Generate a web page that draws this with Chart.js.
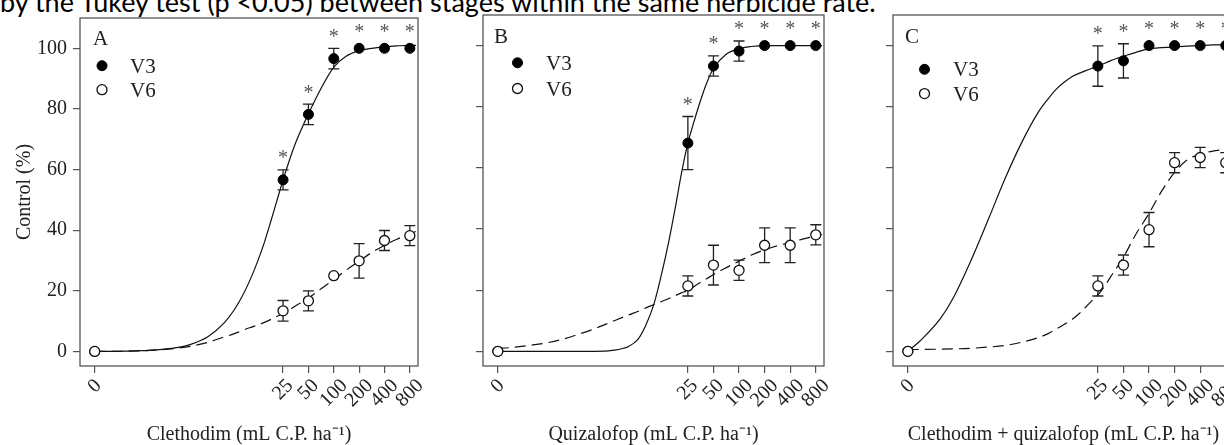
<!DOCTYPE html>
<html><head><meta charset="utf-8">
<script src="https://cdn.jsdelivr.net/npm/chart.js@4.4.1/dist/chart.umd.min.js"></script>
<style>
html,body{margin:0;padding:0;background:#fff;width:1224px;height:445px;overflow:hidden;position:relative;}
#caption{position:absolute;left:0;top:-12px;font-family:Lato,'Open Sans',sans-serif;font-size:27px;line-height:27px;color:#000;white-space:nowrap;}
canvas{position:absolute;top:0;}
</style></head><body>
<div id="caption">by the Tukey test (p &lt;0.05) between stages within the same herbicide rate.</div>
<canvas id="cA" width="432" height="445" style="left:0px"></canvas>
<canvas id="cB" width="398" height="445" style="left:440px"></canvas>
<canvas id="cC" width="398" height="445" style="left:850px"></canvas>
<script>
// ---------- data ----------
const doseLabels = ['0', '25', '50', '100', '200', '400', '800'];
const doses = [0, 25, 50, 100, 200, 400, 800];

// Panel A: clethodim
const clethodimV3 = [0, 56.6, 78.2, 96.6, 100, 100, 100];
const clethodimV3Err = [0, 3.3, 3.4, 3.4, 0, 0, 0];
const clethodimV6 = [0, 13.4, 16.7, 25.0, 29.9, 36.6, 38.2];
const clethodimV6Err = [0, 3.4, 3.3, 0, 5.7, 3.3, 3.3];
const clethodimSig = [false, true, true, true, true, true, true];

// Panel B: quizalofop
const quizalofopV3 = [0, 68.1, 93.3, 98.2, 100, 100, 100];
const quizalofopV3Err = [0, 8.7, 3.3, 3.3, 0, 0, 0];
const quizalofopV6 = [0, 21.4, 28.2, 26.5, 34.7, 34.7, 38.1];
const quizalofopV6Err = [0, 3.3, 6.5, 3.3, 5.7, 5.7, 3.3];
const quizalofopSig = [false, true, true, true, true, true, true];

// Panel C: clethodim + quizalofop
const mixV3 = [0, 93.3, 95.0, 100, 100, 100, 100];
const mixV3Err = [0, 6.6, 5.6, 0, 0, 0, 0];
const mixV6 = [0, 21.4, 28.2, 39.8, 61.7, 63.4, 61.7];
const mixV6Err = [0, 3.3, 3.3, 5.6, 3.3, 3.3, 3.3];
const mixSig = [false, true, true, true, true, true, true];

// fitted curves at these doses (0 = the "0" position)
const curveDoses = [0, 0.2, 0.35, 0.5, 0.8, 1.3, 2, 3.2, 5, 6.5, 8, 10, 12.5, 15, 18, 21, 25, 30, 35, 42, 50, 70, 100, 140, 200, 280, 400, 560, 800, 950];
const clethodimV3Fit = [0, 0.03, 0.12, 0.25, 0.55, 1.15, 2.35, 4.85, 9.4, 13.5, 17.7, 23.2, 29.8, 36.0, 43.2, 49.5, 56.6, 63.4, 68.6, 73.8, 78.4, 86.6, 93.8, 97.4, 99.2, 100, 100.5, 100.8, 101, 101];
const clethodimV6Fit = [0, 0, 0.1, 0.2, 0.5, 1.0, 1.7, 3.0, 4.8, 5.8, 6.8, 7.8, 8.7, 9.6, 10.6, 11.5, 12.5, 13.8, 15.0, 16.3, 17.6, 20.6, 23.7, 26.8, 29.8, 32.6, 35.0, 37.0, 38.8, 39.6];
const quizalofopV3Fit = [0, 0, 0, 0, 0, 0, 0, 0.3, 1.6, 4.0, 8.5, 15.6, 26.3, 36.3, 47.8, 58.2, 68.1, 75.8, 81.8, 88.0, 92.5, 97.1, 99.0, 99.7, 100, 100, 100, 100, 100, 100];
const quizalofopV6Fit = [1.0, 1.2, 2.0, 2.6, 3.8, 5.6, 7.4, 9.7, 11.9, 13.1, 14.2, 15.3, 16.4, 17.3, 18.3, 19.1, 20.0, 21.3, 22.5, 23.8, 25.1, 27.3, 29.5, 31.5, 33.2, 34.5, 35.6, 36.7, 37.7, 38.2];
const mixV3Fit = [0, 3.3, 10.7, 17.6, 29.6, 43.5, 56.2, 68.5, 78.3, 82.6, 85.6, 88.0, 89.9, 90.9, 91.8, 92.5, 93.2, 94.2, 95.0, 95.8, 96.5, 97.8, 98.9, 99.3, 99.6, 99.8, 100, 100.2, 100.3, 100.3];
const mixV6Fit = [0.6, 0.6, 0.7, 0.8, 1.0, 1.4, 1.9, 3.0, 4.5, 5.8, 7.2, 8.8, 10.5, 12.3, 14.5, 16.4, 18.5, 21.3, 24.2, 27.5, 30.8, 38.3, 45.1, 52.3, 58.5, 62.6, 64.5, 65.5, 66.0, 66.2];

const yTicks = [0, 20, 40, 60, 80, 100];

// ---------- presentation ----------
const ZERO_AT = 0.145;               // where dose 0 sits on the log axis
const plotDose = d => (d === 0 ? ZERO_AT : d);
const SERIF = '"Liberation Serif", "Times New Roman", serif';
const INK = '#222';

const decor = {
  id: 'decor',
  beforeDatasetDraw(chart, args) {
    const ds = chart.data.datasets[args.index];
    if (!ds.errors) return;
    const ctx = chart.ctx, xs = chart.scales.x, ys = chart.scales.y;
    ctx.save();
    ctx.strokeStyle = '#222';
    ctx.lineWidth = 1.3;
    ds.data.forEach((p, i) => {
      const e = ds.errors[i];
      if (!e) return;
      const px = xs.getPixelForValue(p.x);
      const t = ys.getPixelForValue(p.y + e), b = ys.getPixelForValue(p.y - e);
      ctx.beginPath();
      ctx.moveTo(px, t); ctx.lineTo(px, b);
      ctx.moveTo(px - 5.5, t); ctx.lineTo(px + 5.5, t);
      ctx.moveTo(px - 5.5, b); ctx.lineTo(px + 5.5, b);
      ctx.stroke();
    });
    ctx.restore();
  },
  afterDraw(chart, args, o) {
    const ctx = chart.ctx, a = chart.chartArea, xs = chart.scales.x, ys = chart.scales.y;
    ctx.save();
    // frame
    ctx.strokeStyle = '#555';
    ctx.lineWidth = 1.3;
    ctx.strokeRect(a.left, a.top, a.right - a.left, a.bottom - a.top);
    // rotated x tick labels, centred on their ticks
    ctx.font = '20px ' + SERIF;
    ctx.fillStyle = INK;
    doseLabels.forEach((lab, i) => {
      const px = xs.getPixelForValue(plotDose(doses[i]));
      const w = ctx.measureText(lab).width;
      const half = (w + 13) * Math.SQRT1_2 / 2;
      ctx.save();
      ctx.translate(px, a.bottom + 12 + half);
      ctx.rotate(-Math.PI / 4);
      ctx.textAlign = 'center';
      ctx.textBaseline = 'middle';
      ctx.fillText(lab, 0, 0);
      ctx.restore();
    });
    // panel letter
    ctx.font = '21px ' + SERIF;
    ctx.textAlign = 'left';
    ctx.textBaseline = 'alphabetic';
    ctx.fillText(o.letter, a.left + o.letterX, o.letterY);
    // legend
    const ds = chart.data.datasets;
    [ds[2], ds[3]].forEach((d, k) => {
      const cx = a.left + o.dotX, cy = o.dotY[k];
      ctx.beginPath();
      ctx.arc(cx, cy, 5, 0, Math.PI * 2);
      ctx.fillStyle = d.pointBackgroundColor;
      ctx.fill();
      ctx.lineWidth = d.pointBorderWidth;
      ctx.strokeStyle = d.pointBorderColor;
      ctx.stroke();
      ctx.fillStyle = INK;
      ctx.font = '21px ' + SERIF;
      ctx.fillText(d.label, a.left + o.textX, cy + 7);
    });
    // significance stars above V3
    const v3 = ds[2];
    ctx.font = '20px ' + SERIF;
    ctx.fillStyle = '#555';
    ctx.textAlign = 'center';
    v3.data.forEach((p, i) => {
      if (!v3.sig[i]) return;
      const px = xs.getPixelForValue(p.x);
      const py = ys.getPixelForValue(p.y);
      const et = ys.getPixelForValue(p.y + (v3.errors[i] || 0));
      const c = Math.min(et, py - 5) - 15.5;
      ctx.fillText('*', px, c + 10);
    });
    ctx.restore();
  }
};

const panels = [
  { id: 'cA', letter: 'A', title: 'Clethodim (mL C.P. ha\u207B\u00B9)', v3: clethodimV3, v3e: clethodimV3Err, v6: clethodimV6, v6e: clethodimV6Err, sig: clethodimSig, f3: clethodimV3Fit, f6: clethodimV6Fit,
    yLabels: true, axisW: 80, padR: 14, lay: { letterX: 13, letterY: 45, dotX: 22, dotY: [65.7, 89.7], textX: 50 } },
  { id: 'cB', letter: 'B', title: 'Quizalofop (mL C.P. ha\u207B\u00B9)', v3: quizalofopV3, v3e: quizalofopV3Err, v6: quizalofopV6, v6e: quizalofopV6Err, sig: quizalofopSig, f3: quizalofopV3Fit, f6: quizalofopV6Fit,
    yLabels: false, axisW: 43, padR: 14, lay: { letterX: 11, letterY: 42.5, dotX: 34.5, dotY: [62.8, 88.5], textX: 63 } },
  { id: 'cC', letter: 'C', title: 'Clethodim + quizalofop (mL C.P. ha\u207B\u00B9)', v3: mixV3, v3e: mixV3Err, v6: mixV6, v6e: mixV6Err, sig: mixSig, f3: mixV3Fit, f6: mixV6Fit,
    yLabels: false, axisW: 43, padR: 14, lay: { letterX: 12, letterY: 43.3, dotX: 31.5, dotY: [69.3, 93.6], textX: 60 } }
];

panels.forEach(p => {
  new Chart(document.getElementById(p.id), {
    type: 'scatter',
    data: {
      datasets: [
        { type: 'line', label: 'V3 fit', data: curveDoses.map((d, i) => ({ x: plotDose(d), y: p.f3[i] })),
          borderColor: '#111', borderWidth: 1.2, pointRadius: 0, cubicInterpolationMode: 'monotone', fill: false, order: 4 },
        { type: 'line', label: 'V6 fit', data: curveDoses.map((d, i) => ({ x: plotDose(d), y: p.f6[i] })),
          borderColor: '#111', borderWidth: 1.2, borderDash: [11, 6], pointRadius: 0, cubicInterpolationMode: 'monotone', fill: false, order: 3 },
        { type: 'scatter', label: 'V3', data: doses.map((d, i) => ({ x: plotDose(d), y: p.v3[i] })), errors: p.v3e, sig: p.sig,
          pointRadius: 5, pointBackgroundColor: '#000', pointBorderColor: '#000', pointBorderWidth: 1, order: 2 },
        { type: 'scatter', label: 'V6', data: doses.map((d, i) => ({ x: plotDose(d), y: p.v6[i] })), errors: p.v6e,
          pointRadius: 5, pointBackgroundColor: '#fff', pointBorderColor: '#111', pointBorderWidth: 1.3, order: 1 }
      ]
    },
    options: {
      responsive: false, animation: false, events: [], devicePixelRatio: 1,
      layout: { padding: { left: 0, right: p.padR, top: 15, bottom: 0 } },
      plugins: { legend: { display: false }, tooltip: { enabled: false }, decor: Object.assign({ letter: p.letter }, p.lay) },
      scales: {
        x: {
          type: 'logarithmic', min: 0.097, max: 1000,
          afterBuildTicks: s => { s.ticks = doses.map(d => ({ value: plotDose(d) })); },
          afterFit: s => { s.height = 79; },
          ticks: { display: false, callback: (v, i) => doseLabels[i] },
          grid: { display: true, drawOnChartArea: false, drawTicks: true, tickLength: 7, color: '#555', lineWidth: 1.2 },
          border: { display: false },
          title: { display: true, text: p.title, color: INK, font: { family: SERIF, size: 20, lineHeight: 1 }, padding: 0 }
        },
        y: {
          type: 'linear', min: -4.8, max: 110,
          afterBuildTicks: s => { s.ticks = yTicks.map(v => ({ value: v })); },
          afterFit: s => { s.width = p.axisW; },
          ticks: { display: p.yLabels, padding: 6, color: INK, font: { family: SERIF, size: 20 } },
          grid: { display: true, drawOnChartArea: false, drawTicks: true, tickLength: 7, color: '#555', lineWidth: 1.2 },
          border: { display: false },
          title: { display: p.yLabels, text: 'Control (%)', color: INK, font: { family: SERIF, size: 20, lineHeight: 1 }, padding: { top: 15, bottom: 0 } }
        }
      }
    },
    plugins: [decor]
  });
});
</script></body></html>
